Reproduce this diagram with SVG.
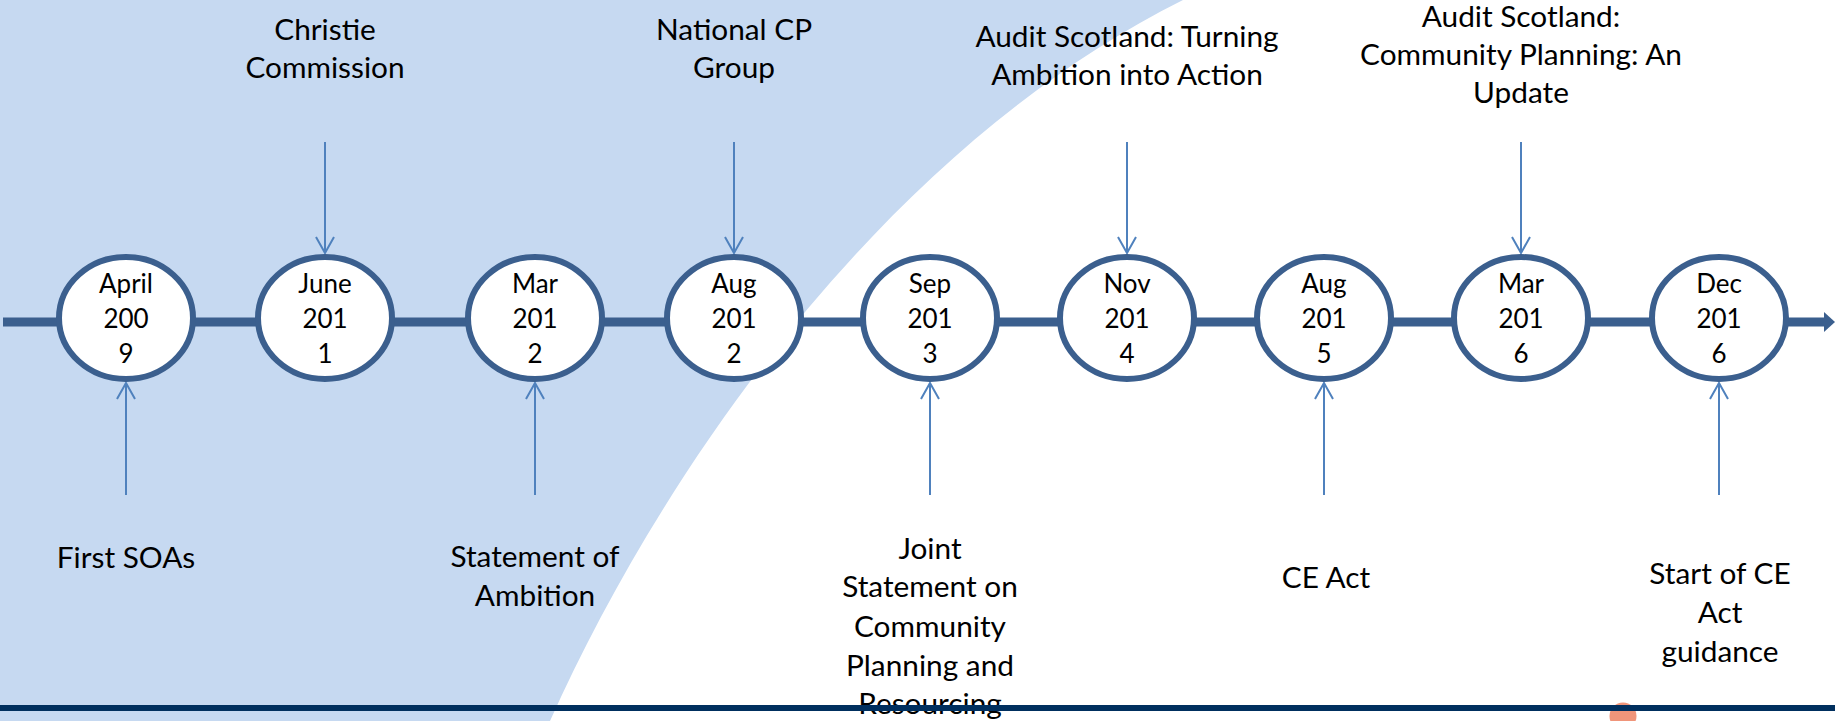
<svg xmlns="http://www.w3.org/2000/svg" width="1835" height="721" viewBox="0 0 1835 721">
  <style>
    .date { font-family: Lato, "Liberation Sans", sans-serif; font-size: 26px; fill: #000; text-anchor: middle; }
    .label { font-family: Lato, "Liberation Sans", sans-serif; font-size: 29.8px; fill: #000; text-anchor: middle; }
    .node ellipse { fill: #FFFFFF; stroke: #3B5F8E; stroke-width: 6; }
    .pointer { stroke: #4F81BD; stroke-width: 2; fill: none; marker-end: url(#vee); }
  </style>
  <defs>
    <marker id="vee" viewBox="-20 -12 22 24" refX="0" refY="0" markerWidth="22" markerHeight="24" markerUnits="userSpaceOnUse" orient="auto">
      <path d="M-16,-9 L0,0 L-16,9" fill="none" stroke="#4F81BD" stroke-width="2"/>
    </marker>
  </defs>

  <!-- backdrop: white page with a sweeping pale-blue panel on the left -->
  <rect x="0" y="0" width="1835" height="721" fill="#FFFFFF"/>
  <path d="M0,0 L1183,0 C883,150 662,471 550,721 L0,721 Z" fill="#C6D9F1"/>

  <!-- timeline axis -->
  <g id="timeline">
    <line x1="3" y1="322" x2="1826" y2="322" stroke="#3B5F8E" stroke-width="9"/>
    <polygon points="1824,312 1835,322 1824,332" fill="#3B5F8E"/>
  </g>

  <!-- event pointers -->
  <g id="connectors">
    <line class="pointer" x1="126" y1="495" x2="126" y2="383"/>
    <line class="pointer" x1="325" y1="142" x2="325" y2="253"/>
    <line class="pointer" x1="535" y1="495" x2="535" y2="383"/>
    <line class="pointer" x1="734" y1="142" x2="734" y2="253"/>
    <line class="pointer" x1="930" y1="495" x2="930" y2="383"/>
    <line class="pointer" x1="1127" y1="142" x2="1127" y2="253"/>
    <line class="pointer" x1="1324" y1="495" x2="1324" y2="383"/>
    <line class="pointer" x1="1521" y1="142" x2="1521" y2="253"/>
    <line class="pointer" x1="1719" y1="495" x2="1719" y2="383"/>
  </g>

  <!-- date nodes -->
  <g id="node-apr-2009" class="node">
    <ellipse cx="126" cy="318" rx="67" ry="61"/>
    <text class="date" x="126" y="293">April</text>
    <text class="date" x="126" y="328">200</text>
    <text class="date" x="126" y="363">9</text>
  </g>
  <g id="node-jun-2011" class="node">
    <ellipse cx="325" cy="318" rx="67" ry="61"/>
    <text class="date" x="325" y="293">June</text>
    <text class="date" x="325" y="328">201</text>
    <text class="date" x="325" y="363">1</text>
  </g>
  <g id="node-mar-2012" class="node">
    <ellipse cx="535" cy="318" rx="67" ry="61"/>
    <text class="date" x="535" y="293">Mar</text>
    <text class="date" x="535" y="328">201</text>
    <text class="date" x="535" y="363">2</text>
  </g>
  <g id="node-aug-2012" class="node">
    <ellipse cx="734" cy="318" rx="67" ry="61"/>
    <text class="date" x="734" y="293">Aug</text>
    <text class="date" x="734" y="328">201</text>
    <text class="date" x="734" y="363">2</text>
  </g>
  <g id="node-sep-2013" class="node">
    <ellipse cx="930" cy="318" rx="67" ry="61"/>
    <text class="date" x="930" y="293">Sep</text>
    <text class="date" x="930" y="328">201</text>
    <text class="date" x="930" y="363">3</text>
  </g>
  <g id="node-nov-2014" class="node">
    <ellipse cx="1127" cy="318" rx="67" ry="61"/>
    <text class="date" x="1127" y="293">Nov</text>
    <text class="date" x="1127" y="328">201</text>
    <text class="date" x="1127" y="363">4</text>
  </g>
  <g id="node-aug-2015" class="node">
    <ellipse cx="1324" cy="318" rx="67" ry="61"/>
    <text class="date" x="1324" y="293">Aug</text>
    <text class="date" x="1324" y="328">201</text>
    <text class="date" x="1324" y="363">5</text>
  </g>
  <g id="node-mar-2016" class="node">
    <ellipse cx="1521" cy="318" rx="67" ry="61"/>
    <text class="date" x="1521" y="293">Mar</text>
    <text class="date" x="1521" y="328">201</text>
    <text class="date" x="1521" y="363">6</text>
  </g>
  <g id="node-dec-2016" class="node">
    <ellipse cx="1719" cy="318" rx="67" ry="61"/>
    <text class="date" x="1719" y="293">Dec</text>
    <text class="date" x="1719" y="328">201</text>
    <text class="date" x="1719" y="363">6</text>
  </g>

  <!-- event captions above the axis -->
  <g id="label-christie">
    <text class="label" x="325" y="40">Christie</text>
    <text class="label" x="325" y="78">Commission</text>
  </g>
  <g id="label-national-cp">
    <text class="label" x="734" y="40">National CP</text>
    <text class="label" x="734" y="78">Group</text>
  </g>
  <g id="label-turning-ambition">
    <text class="label" x="1127" y="47">Audit Scotland: Turning</text>
    <text class="label" x="1127" y="85">Ambition into Action</text>
  </g>
  <g id="label-cp-update">
    <text class="label" x="1521" y="27">Audit Scotland:</text>
    <text class="label" x="1521" y="65">Community Planning: An</text>
    <text class="label" x="1521" y="103">Update</text>
  </g>

  <!-- event captions below the axis -->
  <g id="label-first-soas">
    <text class="label" x="126" y="568">First SOAs</text>
  </g>
  <g id="label-statement-ambition">
    <text class="label" x="535" y="567">Statement of</text>
    <text class="label" x="535" y="606">Ambition</text>
  </g>
  <g id="label-joint-statement">
    <text class="label" x="930" y="559">Joint</text>
    <text class="label" x="930" y="597">Statement on</text>
    <text class="label" x="930" y="637">Community</text>
    <text class="label" x="930" y="676">Planning and</text>
    <text class="label" x="930" y="714">Resourcing</text>
  </g>
  <g id="label-ce-act">
    <text class="label" x="1326" y="588">CE Act</text>
  </g>
  <g id="label-ce-guidance">
    <text class="label" x="1720" y="584">Start of CE</text>
    <text class="label" x="1720" y="623">Act</text>
    <text class="label" x="1720" y="662">guidance</text>
  </g>

  <!-- footer rule with accent dot -->
  <circle cx="1623" cy="716" r="13.5" fill="#F0957A"/>
  <rect x="0" y="705" width="1835" height="6" fill="#002F5E"/>
</svg>
